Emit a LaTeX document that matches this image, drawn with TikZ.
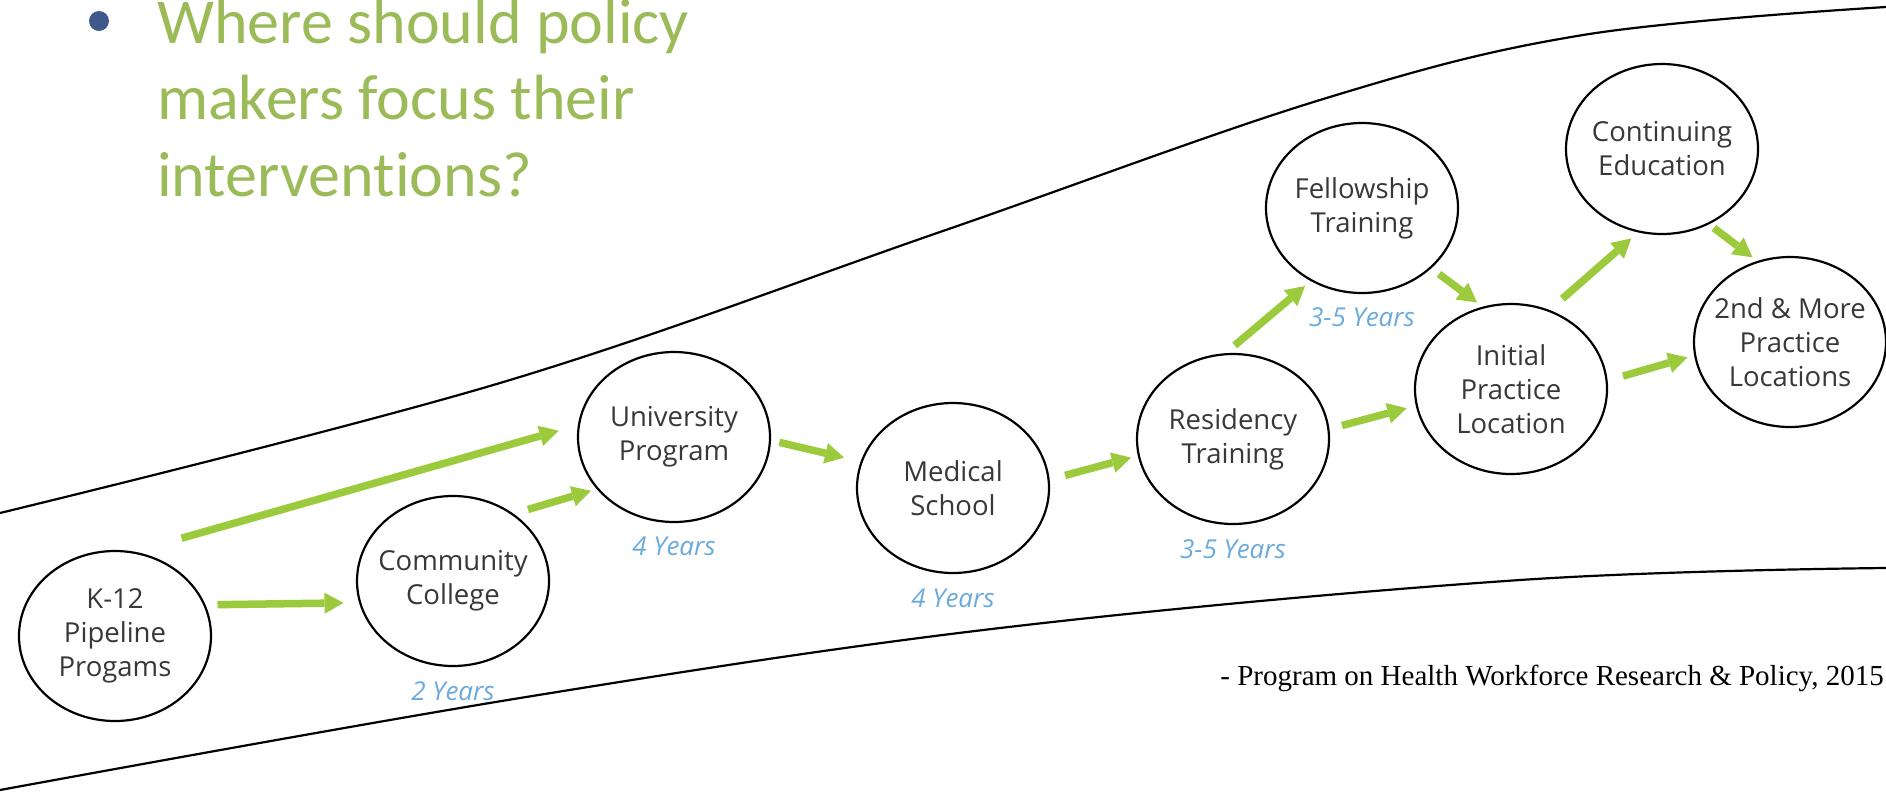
\documentclass[tikz,border=0pt]{standalone}
\usepackage{fontspec}
\setmainfont{Open Sans}
\newfontfamily\titlefont{Carlito}
\newfontfamily\notefont{Liberation Serif}
\usetikzlibrary{arrows.meta,positioning,shapes.geometric}
\definecolor{ArrowGreen}{HTML}{9BCB3C}
\definecolor{TitleGreen}{HTML}{9BBB59}
\definecolor{BulletBlue}{HTML}{3F5A8A}
\definecolor{YearBlue}{HTML}{6AAADD}
\definecolor{StageText}{HTML}{383838}
% fixed word gaps for the question text
\newcommand{\tightspace}{\spaceskip=14.5pt plus 2pt minus 1pt\relax}
\tikzset{
  stage/.style={
    ellipse, draw=black, line width=2.2pt, minimum width=192pt, minimum height=170pt,
    inner sep=0pt, inner xsep=-24pt, align=center, text=StageText,
    font=\fontsize{27.5}{34}\selectfont
  },
  flowarrow/.style={-{Triangle[length=19pt, width=21pt, line width=0pt]}, ArrowGreen, line width=7.5pt},
  yearlabel/.style={font=\fontsize{26}{30}\selectfont\itshape, text=YearBlue, inner sep=0pt},
  boundary/.style={black, line width=2.2pt},
}

\begin{document}
\begin{tikzpicture}[x=1pt, y=-1pt]
    \useasboundingbox (0,0) rectangle (1886,793);
    % question at the top left
    \node[circle, fill=BulletBlue, minimum size=20pt, inner sep=0pt] (bullet) at (99,21) {};
    \node[anchor=base west, text width=700pt, align=left, inner sep=0pt, text=TitleGreen,
          font=\titlefont\fontsize{64}{76.5}\selectfont] (question) at (157,43)
          {\tightspace Where should policy\\makers focus their\\intervent\kern0pt ions?};
    % the widening band
    \draw[boundary] plot[smooth, tension=0.6] coordinates {(0,513) (500,383) (940,232) (1320,100) (1583,35) (1886,7)};
    \draw[boundary] plot[smooth, tension=0.6] coordinates {(0,790) (520,698) (1000,628) (1520,580) (1886,568)};
    % stages
    \node[stage] (k12) at (115,636) {K-12\\Pipeline\\Progams};
    \node[stage] (cc) at (453,581) {Community\\College};
    \node[stage] (univ) at (674,437) {University\\Program};
    \node[stage] (med) at (953,488) {Medical\\School};
    \node[stage] (res) at (1233,439) {Residency\\Training};
    \node[stage] (fell) at (1362,208) {Fellowship\\Training};
    \node[stage] (init) at (1511,389) {Initial\\Practice\\Location};
    \node[stage] (cont) at (1662,149) {Continuing\\Education};
    \node[stage] (more) at (1790,342) {2nd \& More\\Practice\\Locations};
    % durations
    \node[yearlabel, below=14pt of cc] (ccyears) {2 Years};
    \node[yearlabel, below=14pt of univ] (univyears) {4 Years};
    \node[yearlabel, below=15pt of med] (medyears) {4 Years};
    \node[yearlabel, below=14pt of res] (resyears) {3-5 Years};
    \node[yearlabel, below=13pt of fell] (fellyears) {3-5 Years};
    % paths between stages
    \draw[flowarrow, shorten <=12pt, shorten >=15.5pt] (k12.19.6) -- (cc.193.8);
    \draw[flowarrow, shorten <=49pt, shorten >=20pt] (k12.77.3) -- (univ.173.7);
    \draw[flowarrow, shorten <=15pt, shorten >=6pt] (cc.48.5) -- (univ.214.8);
    \draw[flowarrow, shorten <=8.5pt, shorten >=17pt] (univ.358.4) -- (med.164.5);
    \draw[flowarrow, shorten <=16pt, shorten >=7pt] (med.5.9) -- (res.190.1);
    \draw[flowarrow, shorten <=13pt, shorten >=9.5pt] (res.6.2) -- (init.190.4);
    \draw[flowarrow, shorten <=12pt, shorten >=7.5pt] (res.95.3) -- (fell.235.6);
    \draw[flowarrow, shorten <=9.5pt, shorten >=7pt] (fell.319.5) -- (init.109.3);
    \draw[flowarrow, shorten <=17pt, shorten >=9pt] (init.64.3) -- (cont.254.9);
    \draw[flowarrow, shorten <=6pt, shorten >=6pt] (cont.302.5) -- (more.112.1);
    \draw[flowarrow, shorten <=16pt, shorten >=7pt] (init.5.1) -- (more.188.9);
    % source line
    \node[anchor=base east, inner sep=0pt, font=\notefont\fontsize{29}{34}\selectfont] (source) at (1884,685)
          {- Program on Health Workforce Research \& Policy, 2015};
\end{tikzpicture}
\end{document}
